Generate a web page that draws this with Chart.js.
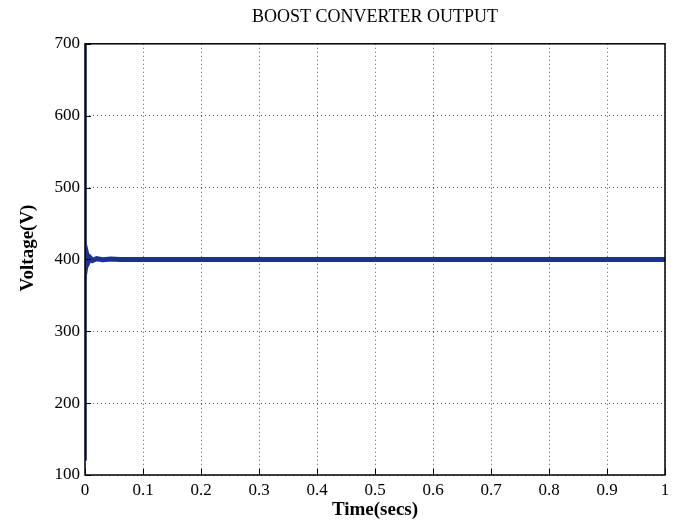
<!DOCTYPE html>
<html>
<head>
<meta charset="utf-8">
<script src="https://cdn.jsdelivr.net/npm/chart.js@4"></script>
<style>
  html, body { margin: 0; padding: 0; background: #fff; }
  #wrap { width: 680px; height: 525px; }
</style>
</head>
<body>
<div id="wrap"><canvas id="boostChart" width="680" height="525"></canvas></div>
<script>
// ---------- DATA ----------
const timeSecs = [0, 0.0008, 0.0014, 0.0025, 0.004, 0.006, 0.009, 0.013, 0.02, 0.03, 0.045, 0.06, 0.1, 0.2, 0.3, 0.4, 0.5, 0.6, 0.7, 0.8, 0.9, 1];
const voltage  = [700, 120, 413, 396, 404, 397, 402, 398.5, 401, 399.5, 400.5, 400, 400, 400, 400, 400, 400, 400, 400, 400, 400, 400];
const xRange = [0, 1];
const yRange = [100, 700];
const chartTitle = "BOOST CONVERTER OUTPUT";
const xTitle = "Time(secs)";
const yTitle = "Voltage(V)";

const SERIF = "'Liberation Serif', 'Times New Roman', serif";
const lineColor = "#1d3290";

// frame + inward tick marks (matlab style)
const framePlugin = {
  id: "frame",
  afterDraw(chart) {
    const { ctx, chartArea: a, scales } = chart;
    ctx.save();
    ctx.strokeStyle = "#000";
    ctx.lineWidth = 1;
    ctx.beginPath();
    scales.x.ticks.forEach(t => {
      const px = Math.round(scales.x.getPixelForValue(t.value)) + 0.5;
      ctx.moveTo(px, a.bottom);
      ctx.lineTo(px, a.bottom - 6);
    });
    scales.y.ticks.forEach(t => {
      const py = Math.round(scales.y.getPixelForValue(t.value)) + 0.5;
      ctx.moveTo(a.left, py);
      ctx.lineTo(a.left + 6, py);
    });
    ctx.stroke();
    ctx.lineWidth = 1.5;
    ctx.strokeRect(a.left, a.top, a.right - a.left, a.bottom - a.top);
    // y axis label
    ctx.translate(28, 248);
    ctx.rotate(-Math.PI / 2);
    ctx.fillStyle = "#000";
    ctx.font = "bold 19px " + SERIF;
    ctx.textAlign = "center";
    ctx.textBaseline = "middle";
    ctx.fillText(yTitle, 0, 0);
    ctx.restore();
  }
};

const ctx = document.getElementById("boostChart").getContext("2d");
new Chart(ctx, {
  type: "line",
  data: {
    datasets: [{
      data: timeSecs.map((t, i) => ({ x: t, y: voltage[i] })),
      borderColor: lineColor,
      borderWidth: 5,
      pointRadius: 0,
      tension: 0,
      segment: {
        borderWidth: c => c.p0DataIndex < 2 ? 2.5 : 5
      }
    }]
  },
  options: {
    responsive: false,
    animation: false,
    events: [],
    layout: { padding: { left: 0, right: 15, top: 0, bottom: 0 } },
    plugins: {
      legend: { display: false },
      tooltip: { enabled: false },
      title: {
        display: true,
        text: chartTitle,
        fullSize: false,
        color: "#000",
        font: { family: SERIF, size: 18, weight: "normal", lineHeight: 1.1 },
        padding: { top: 7, bottom: 17 }
      }
    },
    scales: {
      x: {
        type: "linear",
        min: xRange[0],
        max: xRange[1],
        afterFit: s => { s.height = 50; },
        ticks: {
          stepSize: 0.1,
          padding: 5,
          color: "#000",
          font: { family: SERIF, size: 17 },
          callback: v => String(+v.toFixed(1))
        },
        grid: { color: "rgba(0,0,0,0.65)", lineWidth: 1, drawTicks: false },
        border: { display: false, dash: [1, 3] },
        title: {
          display: true,
          text: xTitle,
          color: "#000",
          font: { family: SERIF, size: 19, weight: "bold" },
          padding: { top: 0, bottom: 4 }
        }
      },
      y: {
        type: "linear",
        min: yRange[0],
        max: yRange[1],
        afterFit: s => { s.width = 85; },
        ticks: {
          stepSize: 100,
          padding: 5,
          color: "#000",
          font: { family: SERIF, size: 17 }
        },
        grid: { color: "rgba(0,0,0,0.65)", lineWidth: 1, drawTicks: false },
        border: { display: false, dash: [1, 3] }
      }
    }
  },
  plugins: [framePlugin]
});
</script>
</body>
</html>
